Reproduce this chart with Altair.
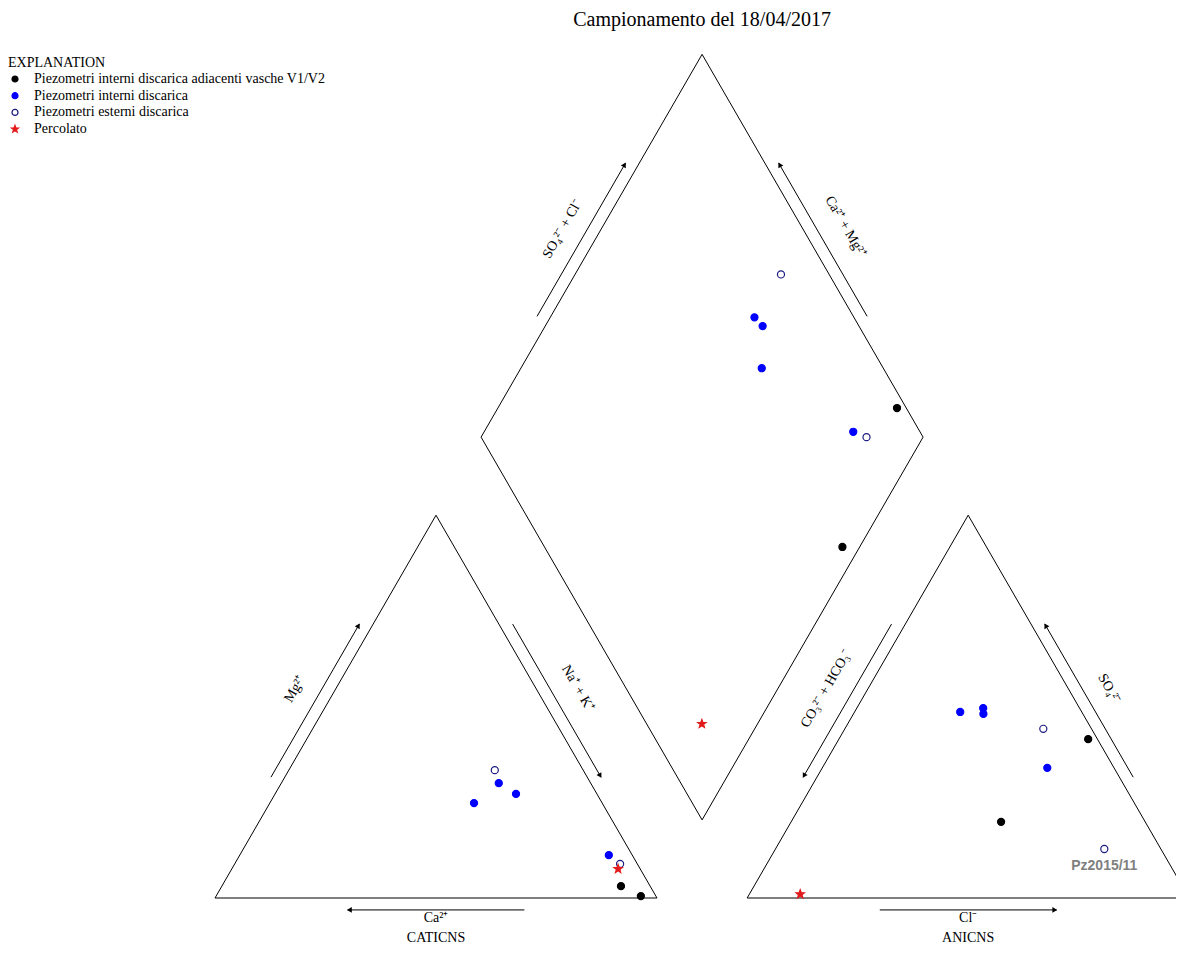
import altair as alt
import numpy as np
import pandas as pd

# ---------------- data ----------------
title_text = "Campionamento del 18/04/2017"
legend_title = "EXPLANATION"
groups = [
    "Piezometri interni discarica adiacenti vasche V1/V2",
    "Piezometri interni discarica",
    "Piezometri esterni discarica",
    "Percolato",
]
sample_group = [0, 0, 1, 1, 1, 1, 2, 2, 3]
# cations (% meq)
ca = [6.6, 3.4, 29.0, 20.8, 18.3, 5.3, 20.0, 3.9, 5.0]
mg = [3.1, 0.5, 24.8, 30.0, 27.2, 11.2, 33.4, 8.9, 7.6]
nak = [90.3, 96.1, 46.2, 49.2, 54.5, 83.5, 46.6, 87.2, 87.4]
# anions (% meq)
hco3 = [2.1, 32.6, 22.5, 21.8, 27.5, 15.1, 10.9, 12.8, 87.5]
so4 = [41.5, 19.9, 48.1, 49.6, 48.6, 34.0, 44.2, 12.8, 1.0]
cl = [56.4, 47.5, 29.4, 28.6, 23.9, 50.9, 44.9, 74.4, 11.5]
sample_names = ["", "", "", "", "", "", "", "Pz2015/11", ""]

cation_labels = ["Ca²⁺", "Mg²⁺", "Na⁺ + K⁺"]
anion_labels = ["CO₃²⁻ + HCO₃⁻", "SO₄²⁻", "Cl⁻"]
diamond_labels = ["SO₄²⁻ + Cl⁻", "Ca²⁺ + Mg²⁺"]
bottom_titles = ["CATICNS", "ANICNS"]

# ---------------- layout ----------------
K = 4.42            # px per ternary unit
GAP = 20.4          # gap between triangles (units)
H = np.sqrt(3) / 2
OFF = 100 + GAP
W, HT = 1168, 937
XMIN = -207 / K
XMAX = XMIN + W / K
YMAX = 890 / K
YMIN = YMAX - HT / K
SERIF = "Liberation Serif"

# five-point star as a custom symbol path (slightly larger than unit box)
_pts = []
for i in range(10):
    r = 1.25 if i % 2 == 0 else 0.52
    a = np.radians(-90 + 36 * i)
    _pts.append(f"{r*np.cos(a):.3f},{r*np.sin(a):.3f}")
STAR = "M" + " L".join(_pts) + " Z"


def cat_xy(c, m, n):
    t = c + m + n
    m, n = 100 * m / t, 100 * n / t
    return (n + 0.5 * m, H * m)


def an_xy(h, s, c):
    t = h + s + c
    s, c = 100 * s / t, 100 * c / t
    return (OFF + c + 0.5 * s, H * s)


def dia_xy(n, h):
    sd = 200 + GAP - h - n
    return (n + 0.5 * sd, H * sd)


# frame polygons built from pure end-member compositions
cat_v = [cat_xy(100, 0, 0), cat_xy(0, 100, 0), cat_xy(0, 0, 100)]
an_v = [an_xy(100, 0, 0), an_xy(0, 100, 0), an_xy(0, 0, 100)]
dia_v = [dia_xy(100, 100), dia_xy(0, 100), dia_xy(0, 0), dia_xy(100, 0)]

frame_rows = []
for name, verts in [("cat", cat_v), ("an", an_v), ("dia", dia_v)]:
    for i, p in enumerate(verts + [verts[0]]):
        frame_rows.append(dict(poly=name, o=i, x=float(p[0]), y=float(p[1])))
frame_df = pd.DataFrame(frame_rows)


def centroid(vs):
    return (np.mean([v[0] for v in vs]), np.mean([v[1] for v in vs]))


def edge_point(p0, p1, t, d, cen):
    ex, ey = p1[0] - p0[0], p1[1] - p0[1]
    L = np.hypot(ex, ey)
    nx, ny = -ey / L, ex / L
    mx, my = p0[0] + t * ex, p0[1] + t * ey
    if (mx - cen[0]) * nx + (my - cen[1]) * ny < 0:
        nx, ny = -nx, -ny
    return (float(mx + d * nx), float(my + d * ny))


def text_angle(p0, p1):
    a = (-np.degrees(np.arctan2(p1[1] - p0[1], p1[0] - p0[0]))) % 360
    if 90 < a < 270:
        a = (a + 180) % 360
    return float(a)


cc, ac, dc = centroid(cat_v), centroid(an_v), centroid(dia_v)
# (start vertex, end vertex (arrow direction), centroid, label, label offset)
edges = [
    (cat_v[2], cat_v[0], cc, cation_labels[0], 4.5),
    (cat_v[0], cat_v[1], cc, cation_labels[1], 8.0),
    (cat_v[1], cat_v[2], cc, cation_labels[2], 8.2),
    (an_v[1], an_v[0], ac, anion_labels[0], 8.2),
    (an_v[0], an_v[2], ac, anion_labels[2], 4.5),
    (an_v[2], an_v[1], ac, anion_labels[1], 8.0),
    (dia_v[1], dia_v[2], dc, diamond_labels[0], 7.6),
    (dia_v[3], dia_v[2], dc, diamond_labels[1], 8.6),
]

arrow_rows, head_rows, label_rows = [], [], []
AD = 2.7
for p0, p1, cen, lab, ld in edges:
    a0 = edge_point(p0, p1, 0.30, AD, cen)
    a1 = edge_point(p0, p1, 0.70, AD, cen)
    arrow_rows.append(dict(x=a0[0], y=a0[1], x2=a1[0], y2=a1[1]))
    dx, dy = a1[0] - a0[0], a1[1] - a0[1]
    L = np.hypot(dx, dy)
    hx, hy = a1[0] - 0.4 * dx / L, a1[1] - 0.4 * dy / L
    head_rows.append(dict(x=float(hx), y=float(hy), ang=float(np.degrees(np.arctan2(dx, dy)) % 360)))
    lp = edge_point(p0, p1, 0.5, ld, cen)
    label_rows.append(dict(x=lp[0], y=lp[1], text=lab, ang=text_angle(p0, p1)))

# bottom titles
for (p0, p1, cen), t in zip([(cat_v[2], cat_v[0], cc), (an_v[0], an_v[2], ac)], bottom_titles):
    lp = edge_point(p0, p1, 0.5, 9.0, cen)
    label_rows.append(dict(x=lp[0], y=lp[1], text=t, ang=0.0))

arrow_df = pd.DataFrame(arrow_rows)
head_df = pd.DataFrame(head_rows)
label_df = pd.DataFrame(label_rows)

top = dia_v[2]
title_df = pd.DataFrame([dict(x=float(top[0]), y=float(top[1] + 7.8), text=title_text)])

# sample points
pt_rows = []
name_rows = []
for i in range(len(ca)):
    g = groups[sample_group[i]]
    tc = ca[i] + mg[i] + nak[i]
    n_ = 100 * nak[i] / tc
    ta = hco3[i] + so4[i] + cl[i]
    h_ = 100 * hco3[i] / ta
    for p in (cat_xy(ca[i], mg[i], nak[i]), an_xy(hco3[i], so4[i], cl[i]), dia_xy(n_, h_)):
        pt_rows.append(dict(x=float(p[0]), y=float(p[1]), group=g))
    if sample_names[i]:
        p = an_xy(hco3[i], so4[i], cl[i])
        name_rows.append(dict(x=float(p[0]), y=float(p[1]), text=sample_names[i]))
pt_df = pd.DataFrame(pt_rows)
name_df = pd.DataFrame(name_rows)

# ---------------- chart ----------------
xs = alt.Scale(domain=[XMIN, XMAX], nice=False, zero=False)
ys = alt.Scale(domain=[YMIN, YMAX], nice=False, zero=False)
X = alt.X("x:Q", scale=xs, axis=None)
Y = alt.Y("y:Q", scale=ys, axis=None)

frame = alt.Chart(frame_df).mark_line(color="black", strokeWidth=1).encode(
    x=X, y=Y, detail="poly:N", order="o:Q"
)
arrows = alt.Chart(arrow_df).mark_rule(color="black", strokeWidth=1).encode(
    x=X, y=Y, x2="x2:Q", y2="y2:Q"
)
heads = alt.Chart(head_df).mark_point(
    shape="triangle-up", filled=True, color="black", size=32, opacity=1
).encode(x=X, y=Y, angle=alt.Angle("ang:Q", scale=None))
labels = alt.Chart(label_df).mark_text(
    font=SERIF, fontSize=14, color="black", align="center", baseline="middle"
).encode(x=X, y=Y, text="text:N", angle=alt.Angle("ang:Q", scale=None))
title = alt.Chart(title_df).mark_text(
    font=SERIF, fontSize=20, color="black", align="center", baseline="middle"
).encode(x=X, y=Y, text="text:N")

points = alt.Chart(pt_df).mark_point(filled=True, opacity=1, strokeWidth=1.2, size=50).encode(
    x=X, y=Y,
    shape=alt.Shape("group:N", scale=alt.Scale(domain=groups, range=["circle", "circle", "circle", STAR]),
                    legend=alt.Legend(title=legend_title)),
    fill=alt.Fill("group:N", scale=alt.Scale(domain=groups, range=["black", "#0000ff", "white", "#e31a1c"]),
                  legend=alt.Legend(title=legend_title)),
    stroke=alt.Stroke("group:N", scale=alt.Scale(domain=groups, range=["black", "#0000ff", "#1a1a80", "#e31a1c"]),
                      legend=alt.Legend(title=legend_title)),
)
names = alt.Chart(name_df).mark_text(
    font="Liberation Sans", fontSize=14, fontWeight="bold", color="#808080",
    align="center", baseline="middle", dy=17,
).encode(x=X, y=Y, text="text:N")

chart = alt.layer(frame, arrows, heads, labels, title, points, names).properties(
    width=W, height=HT, padding=0, autosize=alt.AutoSizeParams(type="none")
).configure_view(stroke=None).configure_legend(
    orient="none", legendX=0, legendY=48,
    titleFont=SERIF, titleFontSize=14, titleFontWeight="normal", titleColor="black",
    labelFont=SERIF, labelFontSize=14, labelColor="black", labelLimit=500,
    symbolSize=36, symbolStrokeWidth=1.2, rowPadding=2.7, padding=0,
    labelOffset=12, titlePadding=2,
)

chart.save("out.html", embed_options={"renderer": "svg", "actions": False})
